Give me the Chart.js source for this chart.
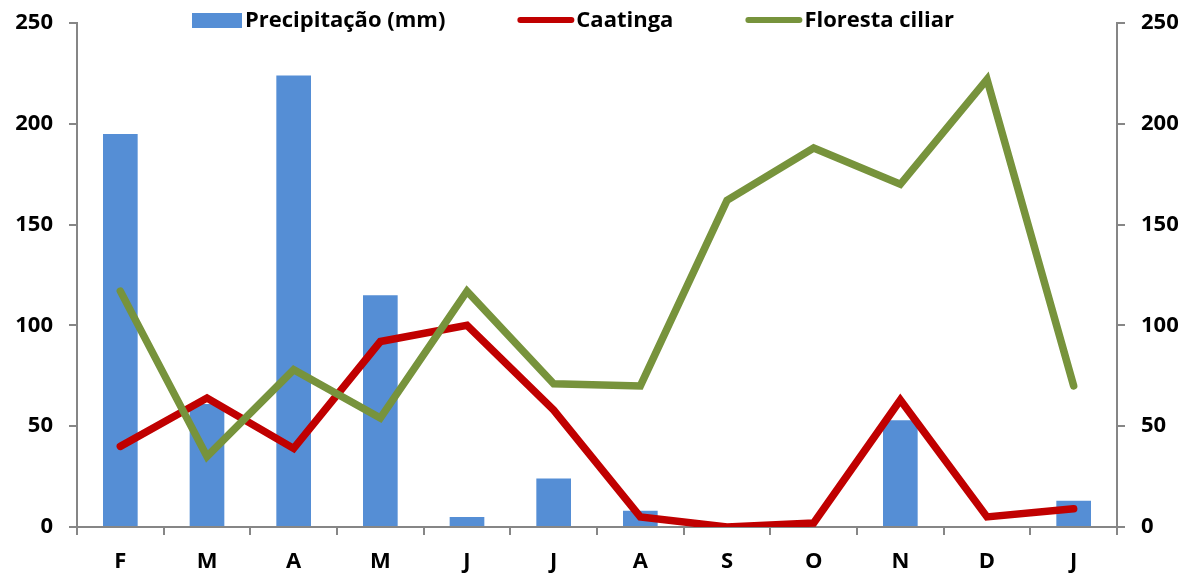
<!DOCTYPE html>
<html>
<head>
<meta charset="utf-8">
<script src="https://cdn.jsdelivr.net/npm/chart.js@4"></script>
<style>
  body { margin: 0; background: #fff; }
  #wrap { width: 1195px; height: 573px; }
</style>
</head>
<body>
<div id="wrap"><canvas id="myChart" width="1195" height="573"></canvas></div>
<script>
const months = ['F', 'M', 'A', 'M', 'J', 'J', 'A', 'S', 'O', 'N', 'D', 'J'];
const precipitacao = [195, 61, 224, 115, 5, 24, 8, 0, 0, 53, 0, 13];
const caatinga = [40, 64, 39, 92, 100, 58, 5, 0, 2, 63, 5, 9];
const florestaCiliar = [117, 35, 78, 54, 117, 71, 70, 162, 188, 170, 222, 70];

const FONT = '"Open Sans", sans-serif';
const axisGray = '#868686';

// legend drawn by hand so it can sit above the plot like the original
const topLegend = {
  id: 'topLegend',
  afterDraw(chart) {
    const ctx = chart.ctx;
    const y = 20;
    let x = 192;
    ctx.save();
    ctx.font = 'bold 22px ' + FONT;
    ctx.textBaseline = 'middle';
    chart.data.datasets.forEach(ds => {
      if (ds.type === 'bar') {
        ctx.fillStyle = ds.backgroundColor;
        ctx.fillRect(x, y - 7, 50, 15);
        x += 53;
      } else {
        ctx.strokeStyle = ds.borderColor;
        ctx.lineWidth = 6;
        ctx.lineCap = 'round';
        ctx.beginPath();
        ctx.moveTo(x + 3, y);
        ctx.lineTo(x + 54, y);
        ctx.stroke();
        x += 59;
      }
      ctx.fillStyle = '#000';
      ctx.fillText(ds.label, x, y + 1);
      x += ctx.measureText(ds.label).width + 72;
    });
    ctx.restore();
  }
};

const tickFont = { family: FONT, size: 22, weight: 'bold' };
const sideAxis = position => ({
  position: position,
  min: 0,
  max: 250,
  ticks: { stepSize: 50, color: '#000', padding: 16, font: tickFont },
  grid: { drawOnChartArea: false, color: axisGray, lineWidth: 2, tickLength: 8 },
  border: { color: axisGray, width: 2 },
  afterFit: scale => {
    scale.width = 65;
    scale.paddingTop = 0;
    scale.paddingBottom = 0;
  }
});

const ctx = document.getElementById('myChart').getContext('2d');
const myChart = new Chart(ctx, {
  data: {
    labels: months,
    datasets: [
      {
        type: 'bar',
        label: 'Precipitação (mm)',
        data: precipitacao,
        yAxisID: 'y',
        backgroundColor: '#558ED5',
        barPercentage: 0.4,
        categoryPercentage: 1,
        order: 3
      },
      {
        type: 'line',
        label: 'Caatinga',
        data: caatinga,
        yAxisID: 'y1',
        borderColor: '#C00000',
        backgroundColor: '#C00000',
        borderWidth: 7.5,
        borderCapStyle: 'round',
        borderJoinStyle: 'miter',
        pointRadius: 0,
        tension: 0,
        order: 2
      },
      {
        type: 'line',
        label: 'Floresta ciliar',
        data: florestaCiliar,
        yAxisID: 'y1',
        borderColor: '#77933C',
        backgroundColor: '#77933C',
        borderWidth: 7.5,
        borderCapStyle: 'round',
        borderJoinStyle: 'miter',
        pointRadius: 0,
        tension: 0,
        order: 1
      }
    ]
  },
  options: {
    responsive: false,
    animation: false,
    layout: {
      padding: { top: 23, left: 12, right: 13, bottom: 0 }
    },
    scales: {
      x: {
        offset: true,
        grid: {
          offset: true,
          drawOnChartArea: false,
          color: axisGray,
          lineWidth: 2,
          tickLength: 8
        },
        border: { color: axisGray, width: 2 },
        ticks: {
          color: '#000',
          padding: 16,
          font: { family: FONT, size: 22, weight: 'bold', lineHeight: 1 }
        },
        afterFit: scale => { scale.height = 46; }
      },
      y: sideAxis('left'),
      y1: sideAxis('right')
    },
    plugins: {
      legend: { display: false },
      tooltip: { enabled: false }
    }
  },
  plugins: [topLegend]
});
</script>
</body>
</html>
